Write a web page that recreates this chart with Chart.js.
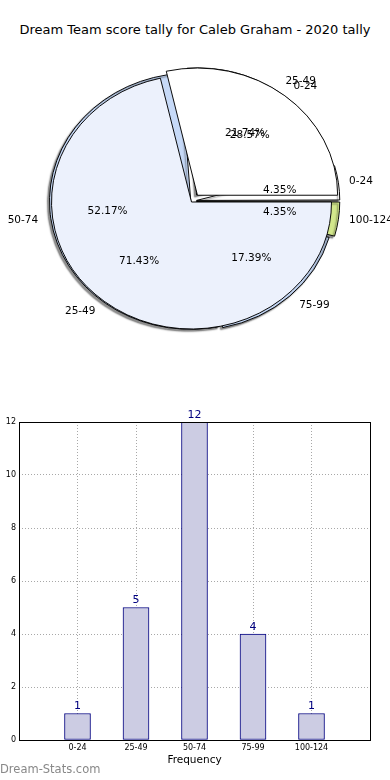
<!DOCTYPE html>
<html>
<head>
<meta charset="utf-8">
<script src="https://cdn.jsdelivr.net/npm/chart.js@4.4.1/dist/chart.umd.min.js"></script>
<style>
  html, body { margin: 0; padding: 0; background: #fff; }
  body { width: 390px; height: 780px; position: relative; overflow: hidden; font-family: "DejaVu Sans", sans-serif; }
  #title { position: absolute; left: 0; top: 22px; width: 390px; text-align: center; font-size: 13px; line-height: 15px; color: #000; }
  .pie { position: absolute; left: 0; top: 40px; }
  #bars { position: absolute; left: -9px; top: 400px; }
  #mark { position: absolute; left: 0; top: 762px; font-size: 11.5px; color: #888; }
</style>
</head>
<body>
<div id="title">Dream Team score tally for Caleb Graham - 2020 tally</div>
<canvas id="pieA" class="pie" width="390" height="330"></canvas>
<canvas id="pieB" class="pie" width="390" height="330"></canvas>
<canvas id="bars" width="399" height="370"></canvas>
<div id="mark">Dream-Stats.com</div>

<script>
// score ranges and how many games fell in each
const categories = ["0-24", "25-49", "50-74", "75-99", "100-124"];
const frequency = [1, 5, 12, 4, 1];

// second pie drawn over the first one (only two ranges)
const pieBLabels = ["0-24", "25-49"];
const pieBValues = [2, 5];

Chart.defaults.font.family = '"DejaVu Sans", sans-serif';

// pies are drawn squashed (ellipse) and counter-clockwise from 3 o'clock
const RADIUS = 140;
const RY = 127 / 140;

function squash(shadow) {
  return {
    id: "squash",
    beforeDatasetsDraw(chart) {
      const a = chart.getDatasetMeta(0).data[0];
      const ctx = chart.ctx;
      ctx.save();
      ctx.translate(a.x, a.y);
      ctx.scale(1, -RY);
      ctx.translate(-a.x, -a.y);
      if (shadow) {
        ctx.shadowColor = "rgba(0,0,0,0.45)";
        ctx.shadowOffsetX = -2;
        ctx.shadowOffsetY = 2;
        ctx.shadowBlur = 1.5;
      }
    },
    afterDatasetsDraw(chart) {
      chart.ctx.restore();
    }
  };
}

// labels and percentages, like matplotlib (1.1 r and 0.6 r)
function drawPieText(chart, ctx) {
  const meta = chart.getDatasetMeta(0);
  const vals = chart.data.datasets[0].data;
  const total = vals.reduce((s, v) => s + v, 0);
  ctx.save();
  ctx.font = '10.5px "DejaVu Sans"';
  ctx.fillStyle = "#000";
  ctx.textBaseline = "middle";
  meta.data.forEach((arc, i) => {
    const mid = (arc.startAngle + arc.endAngle) / 2;
    const c = Math.cos(mid), s = Math.sin(mid);
    const t = (arc.options.offset || 0) / 4;
    const r = arc.outerRadius;
    const px = (d) => arc.x + (t + d) * c;
    const py = (d) => arc.y - RY * (t + d) * s;
    ctx.textAlign = c >= 0 ? "left" : "right";
    ctx.fillText(chart.data.labels[i], px(1.1 * r), py(1.1 * r));
    ctx.textAlign = "center";
    ctx.fillText((vals[i] / total * 100).toFixed(2) + "%", px(0.6 * r), py(0.6 * r));
  });
  ctx.restore();
}

function pieOptions(pad) {
  return {
    responsive: false,
    animation: false,
    rotation: 90,
    radius: RADIUS,
    layout: { padding: pad },
    plugins: { legend: { display: false }, tooltip: { enabled: false } }
  };
}

const pieA = new Chart(document.getElementById("pieA"), {
  type: "pie",
  data: {
    labels: categories,
    datasets: [{
      data: frequency,
      backgroundColor: ["#ffffff", "#ffffff", "#c6d9f7", "#c6d9f7", "#d3e88c"],
      borderColor: "#000",
      borderWidth: 1,
      offset: [18, 32, 5, 12, 18],
      clip: false
    }]
  },
  options: pieOptions({ left: 0, right: 6, top: 0, bottom: 8 }),
  plugins: [squash(true)]
});

const pieB = new Chart(document.getElementById("pieB"), {
  type: "pie",
  data: {
    labels: pieBLabels,
    datasets: [{
      data: pieBValues,
      backgroundColor: ["#ffffff", "#ecf1fc"],
      borderColor: "#000",
      borderWidth: 1,
      offset: [38, 0],
      clip: false
    }]
  },
  options: pieOptions({ left: 0, right: 7, top: 0, bottom: 6 }),
  plugins: [squash(false), {
    id: "pieText",
    afterDraw(chart) {
      drawPieText(pieA, chart.ctx);
      drawPieText(chart, chart.ctx);
    }
  }]
});

// bar chart: box around plot area + value on top of each bar
const frame = {
  id: "frame",
  afterDraw(chart) {
    const a = chart.chartArea;
    const ctx = chart.ctx;
    ctx.save();
    ctx.strokeStyle = "#000";
    ctx.lineWidth = 1;
    ctx.strokeRect(Math.round(a.left) + 0.5, Math.round(a.top) + 0.5,
      Math.round(a.right - a.left), Math.round(a.bottom - a.top));
    ctx.restore();
  }
};

const barValues = {
  id: "barValues",
  afterDatasetsDraw(chart) {
    const ctx = chart.ctx;
    const vals = chart.data.datasets[0].data;
    ctx.save();
    ctx.font = '11px "DejaVu Sans"';
    ctx.fillStyle = "#000080";
    ctx.textAlign = "center";
    ctx.textBaseline = "alphabetic";
    chart.getDatasetMeta(0).data.forEach((bar, i) => {
      if (vals[i] == null) return;
      ctx.fillText(vals[i], bar.x, bar.y - 4.5);
    });
    ctx.restore();
  }
};

new Chart(document.getElementById("bars"), {
  type: "bar",
  data: {
    labels: [""].concat(categories, [""]),
    datasets: [{
      data: [null].concat(frequency, [null]),
      backgroundColor: "#ccccE3",
      borderColor: "#000080",
      borderWidth: 1,
      borderSkipped: false,
      barThickness: 26
    }]
  },
  options: {
    responsive: false,
    animation: false,
    layout: { padding: { top: 22, right: 20, left: 0, bottom: 0 } },
    plugins: { legend: { display: false }, tooltip: { enabled: false } },
    scales: {
      x: {
        offset: false,
        grid: { color: "#a8a8a8", drawTicks: false, lineWidth: 1, offset: false },
        border: { display: false, dash: [1, 2] },
        ticks: { autoSkip: false, maxRotation: 0, padding: 3, color: "#000", font: { size: 8 } },
        title: { display: true, text: "Frequency", color: "#000", font: { size: 10.5 }, padding: { top: 0, bottom: 3 } },
        afterFit: (s) => { s.height = 30; }
      },
      y: {
        min: 0,
        max: 12,
        grid: { color: "#a8a8a8", drawTicks: false, lineWidth: 1 },
        border: { display: false, dash: [1, 2] },
        ticks: { stepSize: 2, padding: 3, color: "#000", font: { size: 8 } },
        title: { display: true, text: "Stat Interval", color: "#000", font: { size: 10 }, padding: 0 },
        afterFit: (s) => { s.width = 28; }
      }
    }
  },
  plugins: [frame, barValues]
});
</script>
</body>
</html>
